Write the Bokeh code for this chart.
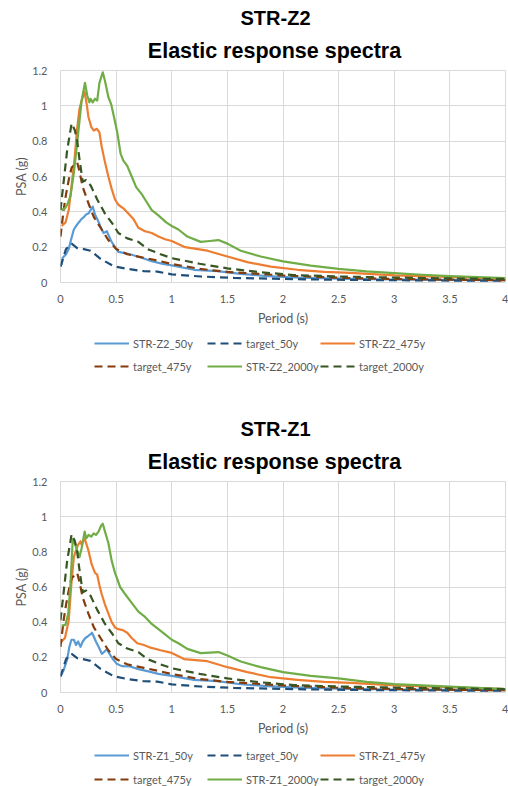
from bokeh.plotting import figure
from bokeh.models import Range1d, FixedTicker, Legend, LegendItem, Label
from bokeh.layouts import column
from bokeh.embed import file_html
from bokeh.resources import INLINE

# ---------------- data ----------------
x_ticks = [0, 0.5, 1, 1.5, 2, 2.5, 3, 3.5, 4]
x_tick_labels = ["0", "0.5", "1", "1.5", "2", "2.5", "3", "3.5", "4"]
y_ticks = [0, 0.2, 0.4, 0.6, 0.8, 1.0, 1.2]
y_tick_labels = ["0", "0.2", "0.4", "0.6", "0.8", "1", "1.2"]

# target spectra (identical in both charts)
t50_T = [0.0, 0.05, 0.1, 0.15, 0.2, 0.27, 0.36, 0.48, 0.6, 0.75, 0.87, 1.0, 1.26, 1.56, 1.8, 2.2, 2.6, 3.0, 3.5, 4.0]
t50_g = [0.09, 0.19, 0.22, 0.195, 0.19, 0.18, 0.134, 0.092, 0.077, 0.064, 0.062, 0.046, 0.034, 0.026, 0.023, 0.018, 0.015, 0.013, 0.011, 0.01]

t475_T = [0.0, 0.03, 0.05, 0.08, 0.1, 0.15, 0.17, 0.2, 0.25, 0.3, 0.36, 0.43, 0.5, 0.6, 0.75, 0.9, 1.0, 1.25, 1.5, 1.8, 2.0, 2.5, 3.0, 3.5, 4.0]
t475_g = [0.26, 0.42, 0.5, 0.6, 0.65, 0.68, 0.63, 0.54, 0.45, 0.37, 0.31, 0.24, 0.19, 0.16, 0.14, 0.12, 0.105, 0.077, 0.06, 0.048, 0.04, 0.027, 0.02, 0.016, 0.013]

t2000_T = [0.0, 0.03, 0.06, 0.1, 0.13, 0.15, 0.17, 0.2, 0.23, 0.27, 0.33, 0.4, 0.47, 0.52, 0.6, 0.7, 0.78, 0.9, 1.0, 1.25, 1.5, 1.8, 2.1, 2.5, 3.0, 3.5, 4.0]
t2000_g = [0.41, 0.58, 0.75, 0.9, 0.86, 0.8, 0.7, 0.57, 0.58, 0.55, 0.47, 0.39, 0.33, 0.28, 0.25, 0.23, 0.19, 0.16, 0.138, 0.106, 0.08, 0.058, 0.042, 0.034, 0.028, 0.023, 0.02]

# STR-Z2 records
z2_50_T = [0.01, 0.02, 0.05, 0.074, 0.098, 0.12, 0.14, 0.164, 0.19, 0.21, 0.23, 0.25, 0.28, 0.29, 0.31, 0.33, 0.357, 0.387, 0.417, 0.43, 0.455, 0.49, 0.52, 0.58, 0.64, 0.73, 0.82, 0.91, 1.0, 1.2, 1.41, 1.62, 1.86, 2.16, 2.6, 3.0, 3.5, 4.0]
z2_50_g = [0.10, 0.14, 0.16, 0.19, 0.25, 0.30, 0.32, 0.34, 0.36, 0.37, 0.385, 0.39, 0.42, 0.43, 0.385, 0.36, 0.32, 0.28, 0.29, 0.27, 0.235, 0.20, 0.173, 0.166, 0.157, 0.14, 0.12, 0.107, 0.097, 0.072, 0.064, 0.049, 0.036, 0.027, 0.02, 0.017, 0.015, 0.013]

z2_475_T = [0.01, 0.045, 0.074, 0.10, 0.128, 0.149, 0.17, 0.19, 0.217, 0.238, 0.25, 0.277, 0.30, 0.327, 0.35, 0.37, 0.40, 0.43, 0.46, 0.49, 0.52, 0.565, 0.61, 0.655, 0.70, 0.76, 0.82, 0.88, 0.94, 1.0, 1.12, 1.32, 1.5, 1.68, 1.89, 2.13, 2.37, 2.61, 3.0, 3.5, 4.0]
z2_475_g = [0.32, 0.34, 0.41, 0.55, 0.71, 0.87, 0.98, 1.03, 1.08, 1.0, 0.94, 0.88, 0.86, 0.87, 0.85, 0.77, 0.68, 0.60, 0.53, 0.47, 0.44, 0.42, 0.39, 0.36, 0.31, 0.29, 0.28, 0.26, 0.245, 0.235, 0.20, 0.18, 0.147, 0.115, 0.09, 0.072, 0.06, 0.054, 0.04, 0.031, 0.02]

z2_2000_T = [0.01, 0.04, 0.06, 0.09, 0.12, 0.15, 0.17, 0.19, 0.22, 0.24, 0.26, 0.27, 0.29, 0.31, 0.33, 0.35, 0.38, 0.40, 0.43, 0.455, 0.48, 0.51, 0.54, 0.565, 0.60, 0.64, 0.68, 0.73, 0.77, 0.82, 0.88, 0.95, 1.0, 1.06, 1.14, 1.26, 1.34, 1.42, 1.50, 1.62, 1.80, 2.0, 2.25, 2.5, 2.75, 3.0, 3.25, 3.5, 3.75, 4.0]
z2_2000_g = [0.41, 0.42, 0.44, 0.49, 0.62, 0.79, 0.91, 1.03, 1.13, 1.06, 1.02, 1.04, 1.02, 1.04, 1.03, 1.13, 1.19, 1.14, 1.05, 1.01, 0.94, 0.85, 0.73, 0.69, 0.66, 0.60, 0.54, 0.50, 0.46, 0.41, 0.38, 0.34, 0.32, 0.30, 0.26, 0.23, 0.235, 0.24, 0.22, 0.18, 0.147, 0.12, 0.096, 0.077, 0.063, 0.053, 0.044, 0.036, 0.03, 0.025]

# STR-Z1 records
z1_50_T = [0.006, 0.03, 0.06, 0.08, 0.098, 0.12, 0.14, 0.158, 0.18, 0.2, 0.223, 0.247, 0.268, 0.283, 0.298, 0.318, 0.342, 0.372, 0.396, 0.417, 0.446, 0.476, 0.506, 0.55, 0.625, 0.70, 0.79, 0.88, 1.0, 1.2, 1.41, 1.62, 1.86, 2.16, 2.6, 3.0, 3.5, 4.0]
z1_50_g = [0.10, 0.13, 0.19, 0.26, 0.30, 0.30, 0.27, 0.29, 0.26, 0.29, 0.31, 0.32, 0.33, 0.34, 0.32, 0.29, 0.26, 0.22, 0.233, 0.246, 0.214, 0.186, 0.163, 0.15, 0.148, 0.133, 0.12, 0.106, 0.095, 0.072, 0.065, 0.047, 0.036, 0.028, 0.02, 0.017, 0.015, 0.013]

z1_475_T = [0.01, 0.04, 0.074, 0.098, 0.12, 0.14, 0.158, 0.18, 0.19, 0.217, 0.23, 0.25, 0.28, 0.31, 0.33, 0.35, 0.37, 0.40, 0.43, 0.46, 0.49, 0.52, 0.56, 0.60, 0.64, 0.69, 0.75, 0.81, 0.9, 1.0, 1.11, 1.32, 1.5, 1.68, 1.89, 2.13, 2.37, 2.61, 3.0, 3.5, 4.0]
z1_475_g = [0.29, 0.31, 0.41, 0.62, 0.77, 0.81, 0.84, 0.86, 0.84, 0.877, 0.85, 0.81, 0.73, 0.68, 0.67, 0.61, 0.56, 0.50, 0.45, 0.40, 0.37, 0.36, 0.355, 0.34, 0.31, 0.28, 0.27, 0.255, 0.24, 0.225, 0.19, 0.178, 0.144, 0.116, 0.087, 0.072, 0.06, 0.055, 0.04, 0.03, 0.02]

z1_2000_T = [0.01, 0.045, 0.07, 0.09, 0.11, 0.128, 0.149, 0.17, 0.19, 0.217, 0.232, 0.253, 0.277, 0.298, 0.318, 0.342, 0.366, 0.38, 0.40, 0.43, 0.46, 0.49, 0.536, 0.58, 0.64, 0.70, 0.76, 0.82, 0.88, 0.94, 1.0, 1.06, 1.14, 1.26, 1.42, 1.5, 1.62, 1.8, 2.0, 2.25, 2.5, 2.75, 3.0, 3.5, 4.0]
z1_2000_g = [0.38, 0.385, 0.45, 0.62, 0.87, 0.85, 0.81, 0.77, 0.82, 0.915, 0.877, 0.896, 0.886, 0.905, 0.896, 0.915, 0.95, 0.96, 0.915, 0.85, 0.75, 0.68, 0.60, 0.56, 0.51, 0.46, 0.43, 0.39, 0.36, 0.33, 0.30, 0.28, 0.248, 0.224, 0.23, 0.21, 0.176, 0.144, 0.116, 0.095, 0.08, 0.06, 0.048, 0.033, 0.019]

# ---------------- style ----------------
C_REC50 = "#5B9BD5"
C_T50 = "#1F4E79"
C_REC475 = "#ED7D31"
C_T475 = "#843C0C"
C_REC2000 = "#70AD47"
C_T2000 = "#375623"
GRID = "#D9D9D9"
TXT = "#595959"
FONT = "Lato"
TFONT = "Liberation Sans"
DASH = "8 5"
LW = 2.2
W = 508


def blank_fig(height, y_range=(0, 1)):
    f = figure(width=W, height=height, output_backend="svg", toolbar_location=None,
               x_axis_type=None, y_axis_type=None,
               x_range=Range1d(0, 4), y_range=Range1d(*y_range),
               min_border_left=60, min_border_right=3,
               min_border_top=0, min_border_bottom=0)
    f.outline_line_color = None
    f.background_fill_color = "white"
    f.border_fill_color = "white"
    return f


def title_fig(name):
    f = blank_fig(64)
    f.add_layout(Label(x=215, y=46.5, x_units="screen", y_units="screen", text=name,
                       text_align="center", text_baseline="alphabetic",
                       text_font=TFONT, text_font_style="bold",
                       text_font_size="20px", text_color="black"))
    f.add_layout(Label(x=214, y=13.5, x_units="screen", y_units="screen",
                       text="Elastic response spectra",
                       text_align="center", text_baseline="alphabetic",
                       text_font=TFONT, text_font_style="bold",
                       text_font_size="21.5px", text_color="black"))
    return f


def draw_series(p, rec50, rec475, rec2000):
    (r50T, r50g), (r475T, r475g), (r2000T, r2000g) = rec50, rec475, rec2000
    return [
        p.line(r50T, r50g, line_color=C_REC50, line_width=LW, line_join="round"),
        p.line(t50_T, t50_g, line_color=C_T50, line_width=LW, line_dash=DASH),
        p.line(r475T, r475g, line_color=C_REC475, line_width=LW, line_join="round"),
        p.line(t475_T, t475_g, line_color=C_T475, line_width=LW, line_dash=DASH),
        p.line(r2000T, r2000g, line_color=C_REC2000, line_width=LW, line_join="round"),
        p.line(t2000_T, t2000_g, line_color=C_T2000, line_width=LW, line_dash=DASH),
    ]


def chart_fig(series, frame_h):
    p = figure(width=W, height=6 + frame_h + 48, output_backend="svg", toolbar_location=None,
               x_range=Range1d(0, 4), y_range=Range1d(0, 1.2),
               min_border_left=60, min_border_right=3, min_border_top=6,
               min_border_bottom=48)
    p.background_fill_color = "white"
    p.border_fill_color = "white"
    p.outline_line_color = GRID

    p.xaxis.ticker = FixedTicker(ticks=x_ticks)
    p.yaxis.ticker = FixedTicker(ticks=y_ticks)
    p.xaxis.major_label_overrides = {float(t): l for t, l in zip(x_ticks, x_tick_labels)}
    p.yaxis.major_label_overrides = {float(t): l for t, l in zip(y_ticks, y_tick_labels)}
    for ax in (p.xaxis[0], p.yaxis[0]):
        ax.axis_line_color = None
        ax.major_tick_line_color = None
        ax.minor_tick_line_color = None
        ax.major_tick_out = 0
        ax.major_tick_in = 0
        ax.major_label_text_font = FONT
        ax.major_label_text_font_size = "11px"
        ax.major_label_text_color = TXT
        ax.axis_label_text_font = FONT
        ax.axis_label_text_font_size = "12.5px"
        ax.axis_label_text_font_style = "normal"
        ax.axis_label_text_color = TXT
    p.xaxis.axis_label = "Period (s)"
    p.yaxis.axis_label = "PSA (g)"
    p.xaxis.major_label_standoff = 12
    p.xaxis.axis_label_standoff = 5
    p.yaxis.major_label_standoff = 13
    p.yaxis.axis_label_standoff = 0

    p.xgrid.grid_line_color = GRID
    p.ygrid.grid_line_color = GRID

    draw_series(p, *series)
    return p


def legend_fig(name, series, height, row_y):
    # the series are drawn again here only to give the legend its glyphs;
    # the y range keeps them out of view
    f = blank_fig(height, y_range=(10, 11))
    rends = draw_series(f, *series)
    labels = [name + "_50y", "target_50y", name + "_475y",
              "target_475y", name + "_2000y", "target_2000y"]
    items = [LegendItem(label=l, renderers=[r]) for l, r in zip(labels, rends)]
    for i, vy in enumerate(row_y):
        leg = Legend(items=items[3 * i:3 * i + 3], orientation="horizontal",
                     location=(34, vy), padding=0, margin=0, spacing=0,
                     glyph_width=35, glyph_height=14, label_height=14, label_width=74,
                     label_standoff=4, border_line_color=None, background_fill_alpha=0,
                     label_text_font=FONT, label_text_font_size="11px",
                     label_text_color=TXT)
        f.add_layout(leg, "center")
    return f


z2 = ((z2_50_T, z2_50_g), (z2_475_T, z2_475_g), (z2_2000_T, z2_2000_g))
z1 = ((z1_50_T, z1_50_g), (z1_475_T, z1_475_g), (z1_2000_T, z1_2000_g))

figs = [
    title_fig("STR-Z2"),
    chart_fig(z2, 212),
    legend_fig("STR-Z2", z2, 81, [61, 38]),
    title_fig("STR-Z1"),
    chart_fig(z1, 211),
    legend_fig("STR-Z1", z1, 46, [24, 0]),
]

layout = column(*figs, spacing=0)
open("out.html", "w").write(file_html(layout, INLINE))
